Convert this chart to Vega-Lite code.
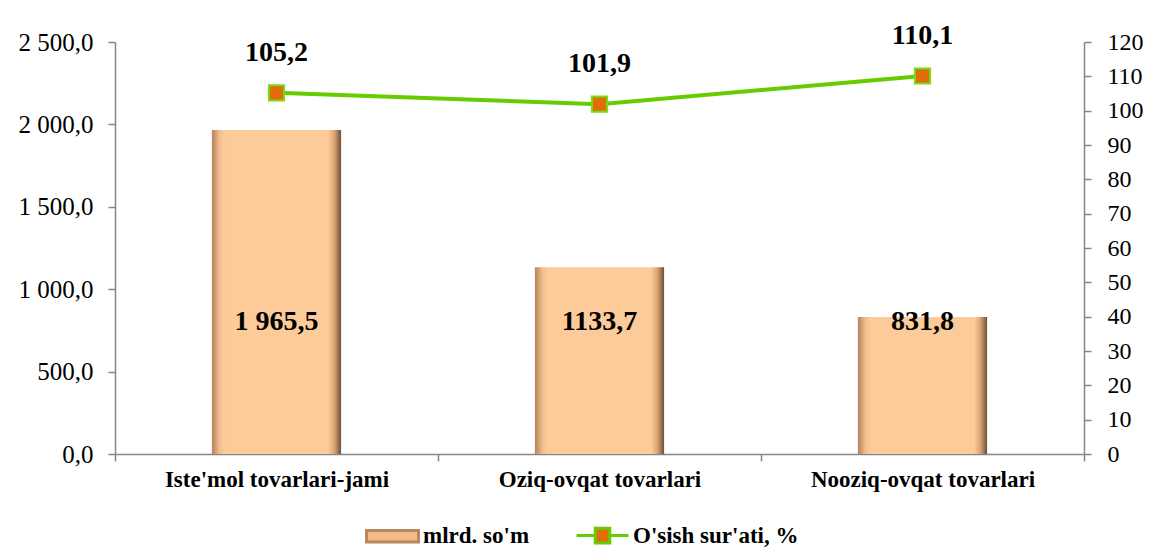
{
  "$schema": "https://vega.github.io/schema/vega-lite/v6.json",
  "width": 969,
  "height": 412,
  "autosize": "none",
  "padding": {"left": 115, "top": 42, "right": 65, "bottom": 95},
  "background": "white",
  "config": {
    "view": {"stroke": null},
    "font": "Liberation Serif",
    "locale": {"number": {"decimal": ",", "thousands": " ", "grouping": [3], "currency": ["", ""]}},
    "axis": {"domainColor": "#868686", "tickColor": "#868686", "domainWidth": 1.5, "tickWidth": 1.5, "labelColor": "black", "labelFont": "Liberation Serif", "grid": false, "title": null}
  },
  "data": {"values": [
    {"cat": "Iste'mol tovarlari-jami", "value": 1965.5, "label": "1 965,5", "growth": 105.2, "glabel": "105,2"},
    {"cat": "Oziq-ovqat tovarlari", "value": 1133.7, "label": "1133,7", "growth": 101.9, "glabel": "101,9"},
    {"cat": "Nooziq-ovqat tovarlari", "value": 831.8, "label": "831,8", "growth": 110.1, "glabel": "110,1"}
  ]},
  "encoding": {
    "x": {"field": "cat", "type": "nominal", "sort": null, "title": null,
      "scale": {"paddingInner": 0, "paddingOuter": 0},
      "axis": {"labelAngle": 0, "labelFontSize": 23, "labelFontWeight": "bold", "labelLimit": 0, "tickBand": "extent", "tickSize": 7, "labelPadding": 7}}
  },
  "layer": [
    {
      "encoding": {
        "y": {"field": "value", "type": "quantitative", "title": null,
          "scale": {"domain": [0, 2500]},
          "axis": {"orient": "left", "values": [0, 500, 1000, 1500, 2000, 2500], "format": ",.1f", "labelFontSize": 25, "tickSize": 7, "labelPadding": 15}}
      },
      "layer": [
        {
          "mark": {"type": "bar", "width": {"band": 0.4},
            "fill": {"gradient": "linear", "x1": 0, "y1": 0, "x2": 1, "y2": 0, "stops": [
              {"offset": 0, "color": "#b5835a"},
              {"offset": 0.06, "color": "#f3bf90"},
              {"offset": 0.1, "color": "#fdca9a"},
              {"offset": 0.9, "color": "#fdca9a"},
              {"offset": 0.95, "color": "#d9a171"},
              {"offset": 1, "color": "#6b4f36"}
            ]}}
        },
        {
          "mark": {"type": "point", "size": 0, "filled": true, "opacity": 1},
          "encoding": {
            "color": {"datum": "mlrd. so'm", "type": "nominal",
              "scale": {"domain": ["mlrd. so'm", "O'sish sur'ati, %"], "range": ["#f2bb8a", "#E36C0A"]},
              "legend": {
                "title": null, "orient": "none", "legendX": 250, "legendY": 466, "direction": "horizontal",
                "labelFont": "Liberation Serif", "labelFontSize": 23, "labelFontWeight": "bold", "labelColor": "black", "labelLimit": 0,
                "symbolSize": 2700, "labelOffset": 3, "columnPadding": 40, "symbolOpacity": 1, "symbolStrokeWidth": 3,
                "symbolType": {"expr": "datum.index === 0 ? 'M-1,-0.22H1V0.22H-1Z' : 'M-1,0H-0.28M0.28,0H1M-0.28,-0.28H0.28V0.28H-0.28Z'"},
                "symbolStrokeColor": {"expr": "datum.index === 0 ? '#b8875e' : '#66CC00'"}
              }}
          }
        },
        {
          "mark": {"type": "text", "fontSize": 28, "fontWeight": "bold", "color": "black", "font": "Liberation Serif", "baseline": "middle"},
          "encoding": {"text": {"field": "label"}, "y": {"datum": 800}}
        }
      ]
    },
    {
      "encoding": {
        "y": {"field": "growth", "type": "quantitative", "title": null,
          "scale": {"domain": [0, 120]},
          "axis": {"orient": "right", "values": [0, 10, 20, 30, 40, 50, 60, 70, 80, 90, 100, 110, 120], "labelFontSize": 24, "tickSize": 7, "labelPadding": 16}}
      },
      "layer": [
        {"mark": {"type": "line", "color": "#66CC00", "strokeWidth": 4}, "encoding": {}},
        {"mark": {"type": "point", "shape": "square", "filled": true, "fill": "#E36C0A", "stroke": "#77DD11", "strokeWidth": 2, "size": 230, "opacity": 1}},
        {"mark": {"type": "text", "fontSize": 28, "fontWeight": "bold", "color": "black", "font": "Liberation Serif", "baseline": "middle", "dy": -40},
          "encoding": {"text": {"field": "glabel"}}}
      ]
    }
  ],
  "resolve": {"scale": {"y": "independent"}}
}
